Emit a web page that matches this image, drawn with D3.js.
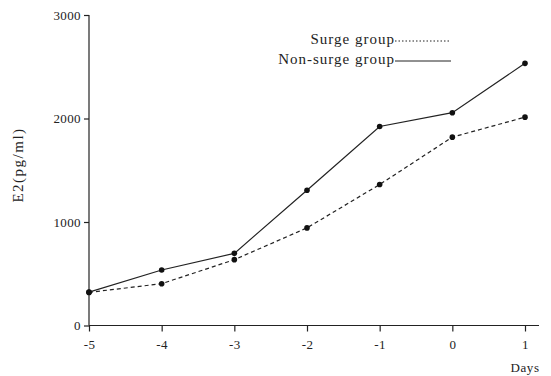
<!DOCTYPE html>
<html><head><meta charset="utf-8">
<script src="https://cdn.jsdelivr.net/npm/d3@7"></script>
<style>body{margin:0;background:#fff}svg{display:block}</style>
</head><body><svg id="c" width="551" height="376"></svg>
<script>
const days = [-5, -4, -3, -2, -1, 0, 1];
const surge = [320, 404, 636, 943, 1362, 1820, 2013];
const nonSurge = [322, 536, 697, 1307, 1923, 2056, 2533];
const yTicks = [0, 1000, 2000, 3000];
const seriesNames = ["Surge group", "Non-surge group"];

const svg = d3.select("#c");
const font = "'Liberation Serif', 'DejaVu Serif', serif";
const x = d3.scaleLinear().domain([-5, 1]).range([89, 525]);
const y = d3.scaleLinear().domain([0, 3000]).range([325.5, 15]);
const ink = "#222";

// axes
const xAxis = svg.append("g").attr("transform", `translate(0,${y(0)})`)
  .call(d3.axisBottom(x).tickValues(days).tickSize(6).tickPadding(6).tickFormat(d => String(d)));
xAxis.select(".domain").attr("d", `M${x(-5)},0H539`);
const yAxis = svg.append("g").attr("transform", `translate(${x(-5)},0)`)
  .call(d3.axisLeft(y).tickValues(yTicks).tickSize(5).tickPadding(3).tickFormat(d => String(d)));
yAxis.select(".domain").attr("d", `M0,${y(0)}V${y(3000)}`);
svg.selectAll(".domain, .tick line").attr("stroke", ink).attr("stroke-width", 1.2);
svg.selectAll(".tick text").attr("font-family", font).attr("font-size", 13)
  .attr("letter-spacing", 0.4).attr("fill", ink);
xAxis.selectAll(".tick text").attr("dy", "0.9em");

// axis titles
svg.append("text").attr("x", 525).attr("y", 372).attr("text-anchor", "middle")
  .attr("font-family", font).attr("font-size", 13).attr("letter-spacing", 0.6).attr("fill", ink).text("Days");
svg.append("text").attr("transform", "translate(23,165) rotate(-90)").attr("text-anchor", "middle")
  .attr("font-family", font).attr("font-size", 15).attr("letter-spacing", 1.5).attr("fill", ink).text("E2(pg/ml)");

// lines
const line = d3.line().x((d, i) => x(days[i])).y(d => y(d));
const series = [
  {name: seriesNames[0], vals: surge, dash: "4,3"},
  {name: seriesNames[1], vals: nonSurge, dash: null}
];
series.forEach(s => {
  svg.append("path").datum(s.vals).attr("d", line).attr("fill", "none")
    .attr("stroke", ink).attr("stroke-width", 1.2).attr("stroke-dasharray", s.dash);
  svg.selectAll(null).data(s.vals).enter().append("circle")
    .attr("cx", (d, i) => x(days[i])).attr("cy", d => y(d)).attr("r", 2.8).attr("fill", "#111");
});

// legend
const leg = [{name: seriesNames[0], ly: 40, dash: "1.5,2"}, {name: seriesNames[1], ly: 60, dash: null}];
leg.forEach(l => {
  svg.append("text").attr("x", 395).attr("y", l.ly + 4).attr("text-anchor", "end")
    .attr("font-family", font).attr("font-size", 15).attr("letter-spacing", 1).attr("fill", ink).text(l.name);
  svg.append("line").attr("x1", 395).attr("x2", 451).attr("y1", l.ly + 1).attr("y2", l.ly + 1)
    .attr("stroke", ink).attr("stroke-width", 1).attr("stroke-dasharray", l.dash);
});
</script></body></html>
